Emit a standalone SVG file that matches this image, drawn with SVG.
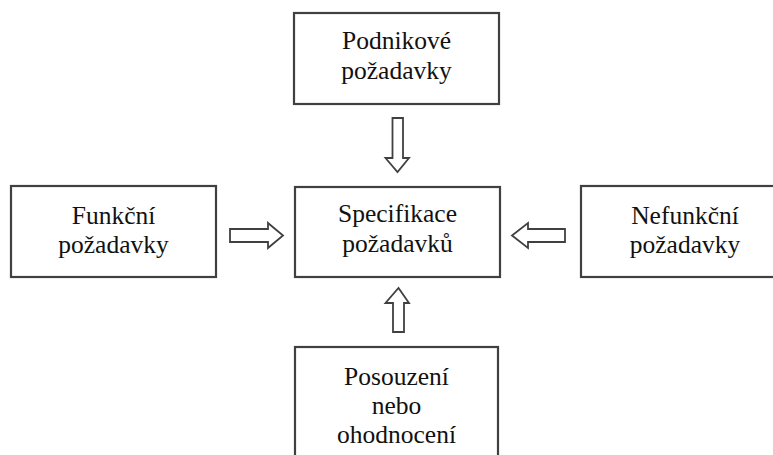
<svg xmlns="http://www.w3.org/2000/svg" width="773" height="455" viewBox="0 0 773 455">
  <style>
    .box { fill: #ffffff; stroke: #404040; stroke-width: 2.2; }
    .arrow { fill: #ffffff; stroke: #404040; stroke-width: 1.8; stroke-linejoin: miter; }
    .label { font-family: 'Liberation Serif', 'Times New Roman', serif; font-size: 25.5px; fill: #111111; text-anchor: middle; }
  </style>
  <rect width="773" height="455" fill="#ffffff"/>

  <g id="podnikove">
    <rect class="box" x="294" y="13" width="205" height="91"/>
    <text class="label" x="396.5" y="49">Podnikové</text>
    <text class="label" x="396.5" y="79">požadavky</text>
  </g>

  <g id="funkcni">
    <rect class="box" x="11" y="186" width="205" height="91"/>
    <text class="label" x="113.5" y="224">Funkční</text>
    <text class="label" x="113.5" y="253">požadavky</text>
  </g>

  <g id="specifikace">
    <rect class="box" x="295" y="187" width="205" height="90"/>
    <text class="label" x="397.5" y="222">Specifikace</text>
    <text class="label" x="397.5" y="252">požadavků</text>
  </g>

  <g id="nefunkcni">
    <rect class="box" x="581" y="186" width="210" height="91"/>
    <text class="label" x="685" y="224">Nefunkční</text>
    <text class="label" x="685" y="253">požadavky</text>
  </g>

  <g id="posouzeni">
    <rect class="box" x="295" y="347" width="203" height="120"/>
    <text class="label" x="396.5" y="385">Posouzení</text>
    <text class="label" x="396.5" y="414">nebo</text>
    <text class="label" x="396.5" y="443">ohodnocení</text>
  </g>

  <g id="connectors">
    <!-- down: Podnikové -> Specifikace -->
    <path class="arrow" d="M392.5,118 H403 V158 H409 L397.5,172 L385.5,158 H392.5 Z"/>
    <!-- right: Funkční -> Specifikace -->
    <path class="arrow" d="M230,229 H268 V223 L283,235.5 L268,248 V242 H230 Z"/>
    <!-- left: Nefunkční -> Specifikace -->
    <path class="arrow" d="M565,229 H528 V223 L512,235.5 L528,248 V242 H565 Z"/>
    <!-- up: Posouzení -> Specifikace -->
    <path class="arrow" d="M393,332 H404 V303 H409 L398.5,288 L385.5,303 H393 Z"/>
  </g>
</svg>
